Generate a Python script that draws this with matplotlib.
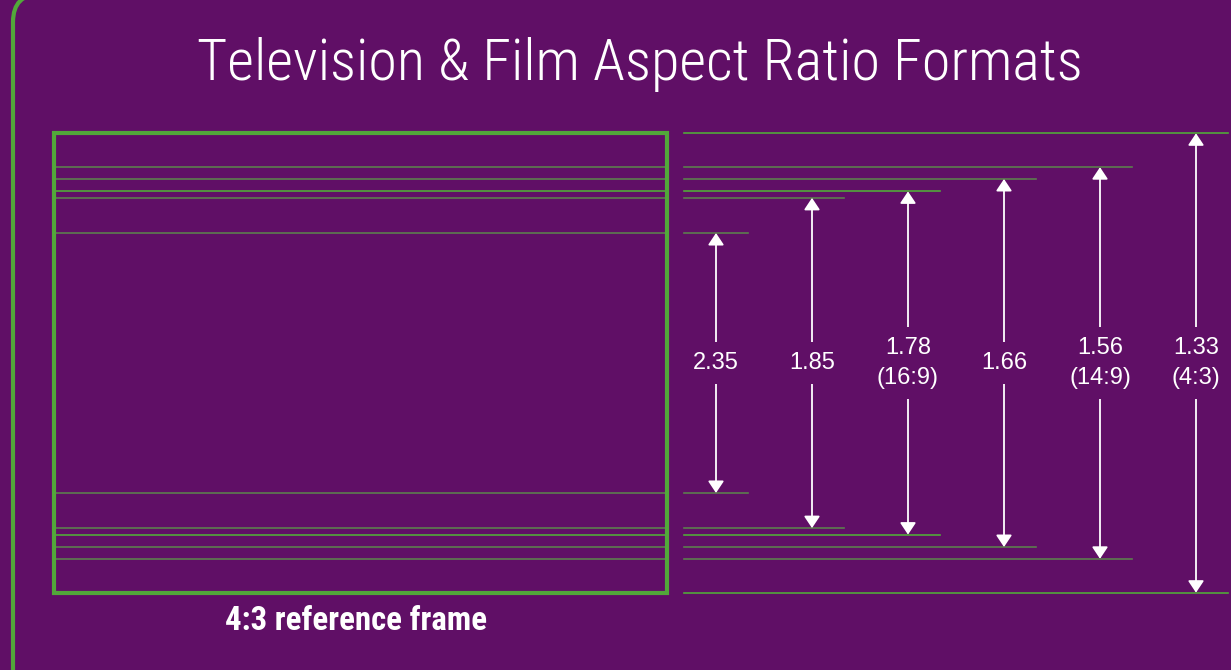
import matplotlib
matplotlib.use("Agg")
import matplotlib.pyplot as plt
import matplotlib.font_manager as fm
from matplotlib.patches import FancyBboxPatch, Rectangle

# aspect ratios (width / height) and their labels
ratios = [2.35, 1.85, 1.78, 1.66, 1.56, 1.33]
labels = ["2.35", "1.85", "1.78\n(16:9)", "1.66", "1.56\n(14:9)", "1.33\n(4:3)"]
title = "Television & Film Aspect Ratio Formats"
caption = "4:3 reference frame"

bg = "#600f66"
green = "#52a83a"
dull = "#5d7d4e"
bright_lines = [False, False, True, False, False, True]   # line colour per ratio

avail = {f.name for f in fm.fontManager.ttflist}
def pick(names, default):
    for n in names:
        if n in avail:
            return n
    return default

title_font = pick(["Roboto Condensed", "Open Sans Condensed", "Liberation Sans Narrow", "DejaVu Sans Condensed"], "Roboto")
label_font = pick(["Liberation Sans", "Arimo"], "DejaVu Sans")

W, H = 1231, 670
fig = plt.figure(figsize=(W / 100, H / 100), dpi=100, facecolor=bg)
ax = fig.add_axes([0, 0, 1, 1])
ax.set_xlim(0, W)
ax.set_ylim(H, 0)
ax.set_facecolor(bg)
ax.axis("off")

# outer rounded border (only the left edge and top-left corner show)
ax.add_patch(FancyBboxPatch((13, -6), 1500, 900, boxstyle="round,pad=0,rounding_size=28",
                            fc="none", ec=green, lw=3.0, zorder=1))

# reference frame geometry
frame_x0, frame_w = 55, 611
cy = 363

def extent(r):
    h = frame_w / r
    return cy - h / 2, cy + h / 2

# inner lines for each ratio inside the 4:3 frame
for r, br in zip(ratios, bright_lines):
    if r == 1.33:
        continue
    top, bot = extent(r)
    c = green if br else dull
    ax.plot([frame_x0, frame_x0 + frame_w], [top, top], color=c, lw=1.2, zorder=2)
    ax.plot([frame_x0, frame_x0 + frame_w], [bot, bot], color=c, lw=1.2, zorder=2)

top43, bot43 = extent(1.33)
ax.add_patch(Rectangle((frame_x0 - 1, top43), frame_w + 2, bot43 - top43,
                       fc="none", ec=green, lw=3.0, zorder=3))

# right side: measuring lines and arrows
x_line0 = 684
for i, (r, lab, br) in enumerate(zip(ratios, labels, bright_lines)):
    ax_x = 716 + 96 * i
    top, bot = extent(r)
    c = green if br else dull
    ax.plot([x_line0, ax_x + 32], [top, top], color=c, lw=1.2, zorder=2)
    ax.plot([x_line0, ax_x + 32], [bot, bot], color=c, lw=1.2, zorder=2)
    ax.annotate("", xy=(ax_x, top), xytext=(ax_x, bot),
                arrowprops=dict(arrowstyle="<|-|>,head_length=0.6,head_width=0.4",
                                color="white", lw=1.3, shrinkA=0, shrinkB=0,
                                mutation_scale=12), zorder=4)
    ax.text(ax_x, cy, lab, color="white", fontsize=17, family=label_font,
            ha="center", va="center", linespacing=1.45, zorder=5,
            bbox=dict(boxstyle="square,pad=0.42", fc=bg, ec="none"))

# title and caption, sized to the widths in the reference
renderer = fig.canvas.get_renderer()
def fit(txt, width):
    bb = txt.get_window_extent(renderer)
    txt.set_fontsize(txt.get_fontsize() * width / bb.width)

t = ax.text(640, 64, title, color="white", fontsize=40, family=title_font,
            fontweight="light", ha="center", va="center")
fit(t, 885)
c = ax.text(356, 621, caption, color="white", fontsize=18, family=title_font,
            fontweight="bold", ha="center", va="center")
fit(c, 262)

fig.savefig("out.png", dpi=100, facecolor=bg)
